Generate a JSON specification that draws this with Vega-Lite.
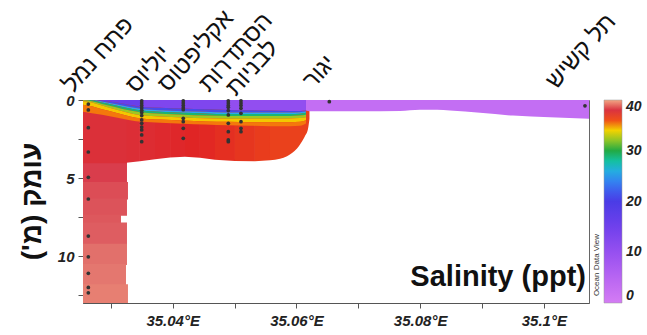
{
"$schema":"https://vega.github.io/schema/vega-lite/v6.json",
"width":506,"height":203,
"autosize":{"type":"none"},
"padding":{"left":83,"top":100,"right":58,"bottom":32},
"background":"white",
"config":{"view":{"stroke":"#666","strokeWidth":1},"font":"Liberation Sans"},
"datasets":{
"body":[
{"lon":35.0255,"lon2":35.03261,"dep":0,"dep2":4.12,"s":37.75},
{"lon":35.0255,"lon2":35.03261,"dep":4.05,"dep2":5.32,"s":38.4},
{"lon":35.0255,"lon2":35.03277,"dep":5.25,"dep2":6.37,"s":38.7},
{"lon":35.0255,"lon2":35.03261,"dep":6.3,"dep2":7.42,"s":38.8},
{"lon":35.0255,"lon2":35.03164,"dep":7.35,"dep2":7.92,"s":38.9},
{"lon":35.0255,"lon2":35.03261,"dep":7.85,"dep2":9.27,"s":39.0},
{"lon":35.0255,"lon2":35.03261,"dep":9.2,"dep2":10.57,"s":39.3},
{"lon":35.0255,"lon2":35.03245,"dep":10.5,"dep2":11.87,"s":39.4},
{"lon":35.0255,"lon2":35.03277,"dep":11.8,"dep2":13,"s":39.5}
],
"bodyarea":[
{"b":"A","s":37.65,"lon":35.0325,"dep":0,"dep2":4.02},
{"b":"A","s":37.65,"lon":35.03471,"dep":0,"dep2":3.92},
{"b":"B","s":37.5,"lon":35.03471,"dep":0,"dep2":3.92},
{"b":"B","s":37.5,"lon":35.03714,"dep":0,"dep2":3.8},
{"b":"C","s":37.35,"lon":35.03714,"dep":0,"dep2":3.8},
{"b":"C","s":37.35,"lon":35.03957,"dep":0,"dep2":3.68},
{"b":"D","s":37.2,"lon":35.03957,"dep":0,"dep2":3.68},
{"b":"D","s":37.2,"lon":35.04199,"dep":0,"dep2":3.64},
{"b":"E","s":37.05,"lon":35.04199,"dep":0,"dep2":3.64},
{"b":"E","s":37.05,"lon":35.04441,"dep":0,"dep2":3.7},
{"b":"F","s":36.9,"lon":35.04441,"dep":0,"dep2":3.7},
{"b":"F","s":36.9,"lon":35.04684,"dep":0,"dep2":3.82},
{"b":"G","s":36.75,"lon":35.04684,"dep":0,"dep2":3.82},
{"b":"G","s":36.75,"lon":35.05007,"dep":0,"dep2":3.9},
{"b":"H","s":36.6,"lon":35.05007,"dep":0,"dep2":3.9},
{"b":"H","s":36.6,"lon":35.0533,"dep":0,"dep2":3.92},
{"b":"I","s":36.45,"lon":35.0533,"dep":0,"dep2":3.92},
{"b":"I","s":36.45,"lon":35.05573,"dep":0,"dep2":3.86},
{"b":"J","s":36.35,"lon":35.05573,"dep":0,"dep2":3.86},
{"b":"J","s":36.35,"lon":35.05735,"dep":0,"dep2":3.76},
{"b":"J","s":36.35,"lon":35.05848,"dep":0,"dep2":3.6},
{"b":"J","s":36.35,"lon":35.05929,"dep":0,"dep2":3.4},
{"b":"J","s":36.35,"lon":35.0601,"dep":0,"dep2":3.1},
{"b":"J","s":36.35,"lon":35.06074,"dep":0,"dep2":2.75},
{"b":"J","s":36.35,"lon":35.06139,"dep":0,"dep2":2.3},
{"b":"J","s":36.35,"lon":35.06187,"dep":0,"dep2":1.85},
{"b":"J","s":36.35,"lon":35.06211,"dep":0,"dep2":1.2}
],
"bands":[
{"b":"p1","s":16,"lon":35.02695,"dep":0,"dep2":0},
{"b":"p1","s":16,"lon":35.02857,"dep":0,"dep2":0.05},
{"b":"p1","s":16,"lon":35.03067,"dep":0,"dep2":0.15},
{"b":"p1","s":16,"lon":35.0331,"dep":0,"dep2":0.32},
{"b":"p1","s":16,"lon":35.03504,"dep":0,"dep2":0.45},
{"b":"p2","s":13,"lon":35.03504,"dep":0,"dep2":0.45},
{"b":"p2","s":13,"lon":35.03795,"dep":0,"dep2":0.5},
{"b":"p2","s":13,"lon":35.04167,"dep":0,"dep2":0.55},
{"b":"p2","s":13,"lon":35.04522,"dep":0,"dep2":0.6},
{"b":"p2","s":13,"lon":35.04894,"dep":0,"dep2":0.64},
{"b":"p3","s":10.5,"lon":35.04894,"dep":0,"dep2":0.64},
{"b":"p3","s":10.5,"lon":35.0525,"dep":0,"dep2":0.66},
{"b":"p3","s":10.5,"lon":35.05573,"dep":0,"dep2":0.68},
{"b":"p3","s":10.5,"lon":35.05896,"dep":0,"dep2":0.7},
{"b":"p3","s":10.5,"lon":35.06058,"dep":0,"dep2":0.7},
{"b":"p3","s":10.5,"lon":35.06155,"dep":0,"dep2":0.68},
{"b":"b2","s":21,"lon":35.0255,"dep":0,"dep2":0},
{"b":"b2","s":21,"lon":35.02695,"dep":0,"dep2":0},
{"b":"b2","s":21,"lon":35.02857,"dep":0.05,"dep2":0.1},
{"b":"b2","s":21,"lon":35.03067,"dep":0.15,"dep2":0.25},
{"b":"b2","s":21,"lon":35.0331,"dep":0.32,"dep2":0.45},
{"b":"b2","s":21,"lon":35.03504,"dep":0.45,"dep2":0.58},
{"b":"b2","s":21,"lon":35.03795,"dep":0.5,"dep2":0.65},
{"b":"b2","s":21,"lon":35.04167,"dep":0.55,"dep2":0.72},
{"b":"b2","s":21,"lon":35.04522,"dep":0.6,"dep2":0.76},
{"b":"b2","s":21,"lon":35.04894,"dep":0.64,"dep2":0.8},
{"b":"b2","s":21,"lon":35.0525,"dep":0.66,"dep2":0.8},
{"b":"b2","s":21,"lon":35.05573,"dep":0.68,"dep2":0.8},
{"b":"b2","s":21,"lon":35.05896,"dep":0.7,"dep2":0.8},
{"b":"b2","s":21,"lon":35.06058,"dep":0.7,"dep2":0.78},
{"b":"b2","s":21,"lon":35.06155,"dep":0.68,"dep2":0.74},
{"b":"b3","s":25.5,"lon":35.0255,"dep":0,"dep2":0},
{"b":"b3","s":25.5,"lon":35.02695,"dep":0,"dep2":0.02},
{"b":"b3","s":25.5,"lon":35.02857,"dep":0.1,"dep2":0.16},
{"b":"b3","s":25.5,"lon":35.03067,"dep":0.25,"dep2":0.33},
{"b":"b3","s":25.5,"lon":35.0331,"dep":0.45,"dep2":0.55},
{"b":"b3","s":25.5,"lon":35.03504,"dep":0.58,"dep2":0.68},
{"b":"b3","s":25.5,"lon":35.03795,"dep":0.65,"dep2":0.75},
{"b":"b3","s":25.5,"lon":35.04167,"dep":0.72,"dep2":0.82},
{"b":"b3","s":25.5,"lon":35.04522,"dep":0.76,"dep2":0.86},
{"b":"b3","s":25.5,"lon":35.04894,"dep":0.8,"dep2":0.9},
{"b":"b3","s":25.5,"lon":35.0525,"dep":0.8,"dep2":0.9},
{"b":"b3","s":25.5,"lon":35.05573,"dep":0.8,"dep2":0.9},
{"b":"b3","s":25.5,"lon":35.05896,"dep":0.8,"dep2":0.9},
{"b":"b3","s":25.5,"lon":35.06058,"dep":0.78,"dep2":0.88},
{"b":"b3","s":25.5,"lon":35.06155,"dep":0.74,"dep2":0.82},
{"b":"b4","s":29,"lon":35.0255,"dep":0,"dep2":0.02},
{"b":"b4","s":29,"lon":35.02695,"dep":0.02,"dep2":0.08},
{"b":"b4","s":29,"lon":35.02857,"dep":0.16,"dep2":0.25},
{"b":"b4","s":29,"lon":35.03067,"dep":0.33,"dep2":0.45},
{"b":"b4","s":29,"lon":35.0331,"dep":0.55,"dep2":0.68},
{"b":"b4","s":29,"lon":35.03504,"dep":0.68,"dep2":0.8},
{"b":"b4","s":29,"lon":35.03795,"dep":0.75,"dep2":0.88},
{"b":"b4","s":29,"lon":35.04167,"dep":0.82,"dep2":0.95},
{"b":"b4","s":29,"lon":35.04522,"dep":0.86,"dep2":1.0},
{"b":"b4","s":29,"lon":35.04894,"dep":0.9,"dep2":1.03},
{"b":"b4","s":29,"lon":35.0525,"dep":0.9,"dep2":1.03},
{"b":"b4","s":29,"lon":35.05573,"dep":0.9,"dep2":1.03},
{"b":"b4","s":29,"lon":35.05896,"dep":0.9,"dep2":1.02},
{"b":"b4","s":29,"lon":35.06058,"dep":0.88,"dep2":1.0},
{"b":"b4","s":29,"lon":35.06155,"dep":0.82,"dep2":0.95},
{"b":"b5","s":32.3,"lon":35.0255,"dep":0.02,"dep2":0.08},
{"b":"b5","s":32.3,"lon":35.02695,"dep":0.08,"dep2":0.16},
{"b":"b5","s":32.3,"lon":35.02857,"dep":0.25,"dep2":0.36},
{"b":"b5","s":32.3,"lon":35.03067,"dep":0.45,"dep2":0.6},
{"b":"b5","s":32.3,"lon":35.0331,"dep":0.68,"dep2":0.85},
{"b":"b5","s":32.3,"lon":35.03504,"dep":0.8,"dep2":0.98},
{"b":"b5","s":32.3,"lon":35.03795,"dep":0.88,"dep2":1.05},
{"b":"b5","s":32.3,"lon":35.04167,"dep":0.95,"dep2":1.12},
{"b":"b5","s":32.3,"lon":35.04522,"dep":1.0,"dep2":1.17},
{"b":"b5","s":32.3,"lon":35.04894,"dep":1.03,"dep2":1.2},
{"b":"b5","s":32.3,"lon":35.0525,"dep":1.03,"dep2":1.2},
{"b":"b5","s":32.3,"lon":35.05573,"dep":1.03,"dep2":1.2},
{"b":"b5","s":32.3,"lon":35.05896,"dep":1.02,"dep2":1.18},
{"b":"b5","s":32.3,"lon":35.06058,"dep":1.0,"dep2":1.15},
{"b":"b5","s":32.3,"lon":35.06155,"dep":0.95,"dep2":1.1},
{"b":"b6","s":34.2,"lon":35.0255,"dep":0.08,"dep2":0.3},
{"b":"b6","s":34.2,"lon":35.02695,"dep":0.16,"dep2":0.4},
{"b":"b6","s":34.2,"lon":35.02857,"dep":0.36,"dep2":0.6},
{"b":"b6","s":34.2,"lon":35.03067,"dep":0.6,"dep2":0.8},
{"b":"b6","s":34.2,"lon":35.0331,"dep":0.85,"dep2":1.05},
{"b":"b6","s":34.2,"lon":35.03504,"dep":0.98,"dep2":1.18},
{"b":"b6","s":34.2,"lon":35.03795,"dep":1.05,"dep2":1.25},
{"b":"b6","s":34.2,"lon":35.04167,"dep":1.12,"dep2":1.32},
{"b":"b6","s":34.2,"lon":35.04522,"dep":1.17,"dep2":1.37},
{"b":"b6","s":34.2,"lon":35.04894,"dep":1.2,"dep2":1.4},
{"b":"b6","s":34.2,"lon":35.0525,"dep":1.2,"dep2":1.42},
{"b":"b6","s":34.2,"lon":35.05573,"dep":1.2,"dep2":1.43},
{"b":"b6","s":34.2,"lon":35.05896,"dep":1.18,"dep2":1.42},
{"b":"b6","s":34.2,"lon":35.06058,"dep":1.15,"dep2":1.4},
{"b":"b6","s":34.2,"lon":35.06155,"dep":1.1,"dep2":1.3},
{"b":"b7","s":35.5,"lon":35.0255,"dep":0.3,"dep2":0.75},
{"b":"b7","s":35.5,"lon":35.02695,"dep":0.4,"dep2":0.85},
{"b":"b7","s":35.5,"lon":35.02857,"dep":0.6,"dep2":0.95},
{"b":"b7","s":35.5,"lon":35.03067,"dep":0.8,"dep2":1.1},
{"b":"b7","s":35.5,"lon":35.0331,"dep":1.05,"dep2":1.3},
{"b":"b7","s":35.5,"lon":35.03504,"dep":1.18,"dep2":1.4},
{"b":"b7","s":35.5,"lon":35.03795,"dep":1.25,"dep2":1.45},
{"b":"b7","s":35.5,"lon":35.04167,"dep":1.32,"dep2":1.52},
{"b":"b7","s":35.5,"lon":35.04522,"dep":1.37,"dep2":1.57},
{"b":"b7","s":35.5,"lon":35.04894,"dep":1.4,"dep2":1.62},
{"b":"b7","s":35.5,"lon":35.0525,"dep":1.42,"dep2":1.65},
{"b":"b7","s":35.5,"lon":35.05573,"dep":1.43,"dep2":1.68},
{"b":"b7","s":35.5,"lon":35.05896,"dep":1.42,"dep2":1.68},
{"b":"b7","s":35.5,"lon":35.06058,"dep":1.4,"dep2":1.65},
{"b":"b7","s":35.5,"lon":35.06155,"dep":1.3,"dep2":1.5},
{"b":"r","s":3,"lon":35.06155,"dep":0,"dep2":0.68},
{"b":"r","s":3,"lon":35.06219,"dep":0,"dep2":0.72},
{"b":"r","s":3,"lon":35.07028,"dep":0,"dep2":0.72},
{"b":"r","s":3,"lon":35.07675,"dep":0,"dep2":0.7},
{"b":"r","s":3,"lon":35.07998,"dep":0,"dep2":0.62},
{"b":"r","s":3,"lon":35.08273,"dep":0,"dep2":0.62},
{"b":"r","s":3,"lon":35.08483,"dep":0,"dep2":0.68},
{"b":"r","s":3,"lon":35.08968,"dep":0,"dep2":0.82},
{"b":"r","s":3,"lon":35.09501,"dep":0,"dep2":1.0},
{"b":"r","s":3,"lon":35.10099,"dep":0,"dep2":1.1},
{"b":"r","s":3,"lon":35.1073,"dep":0,"dep2":1.2}
],
"dots":[
{"lon":35.02636,"dep":0.26},{"lon":35.02636,"dep":0.64},{"lon":35.02636,"dep":1.77},{"lon":35.02636,"dep":3.33},{"lon":35.02636,"dep":4.95},{"lon":35.02636,"dep":6.34},{"lon":35.02636,"dep":8.71},{"lon":35.02636,"dep":10.04},{"lon":35.02636,"dep":11.1},{"lon":35.02636,"dep":12.0},{"lon":35.02636,"dep":12.35},
{"lon":35.03499,"dep":0.05},{"lon":35.03499,"dep":0.2},{"lon":35.03499,"dep":0.35},{"lon":35.03499,"dep":0.5},{"lon":35.03499,"dep":0.65},{"lon":35.03499,"dep":0.8},{"lon":35.03499,"dep":1.0},{"lon":35.03499,"dep":1.28},{"lon":35.03499,"dep":1.49},{"lon":35.03499,"dep":1.73},{"lon":35.03499,"dep":1.92},{"lon":35.03499,"dep":2.24},{"lon":35.03499,"dep":2.67},
{"lon":35.04171,"dep":0.05},{"lon":35.04171,"dep":0.2},{"lon":35.04171,"dep":0.35},{"lon":35.04171,"dep":0.5},{"lon":35.04171,"dep":0.62},{"lon":35.04171,"dep":1.17},{"lon":35.04171,"dep":1.39},{"lon":35.04171,"dep":1.81},{"lon":35.04171,"dep":2.45},
{"lon":35.04899,"dep":0.05},{"lon":35.04899,"dep":0.2},{"lon":35.04899,"dep":0.35},{"lon":35.04899,"dep":0.47},{"lon":35.04899,"dep":0.68},{"lon":35.04899,"dep":0.96},{"lon":35.04899,"dep":1.49},{"lon":35.04899,"dep":2.03},{"lon":35.04899,"dep":2.56},{"lon":35.04899,"dep":2.67},
{"lon":35.05104,"dep":0.05},{"lon":35.05104,"dep":0.2},{"lon":35.05104,"dep":0.35},{"lon":35.05104,"dep":0.53},{"lon":35.05104,"dep":0.85},{"lon":35.05104,"dep":1.39},{"lon":35.05104,"dep":1.81},{"lon":35.05104,"dep":2.03},
{"lon":35.06532,"dep":0.11},
{"lon":35.10665,"dep":0.37}
],
"labels":[
{"name":"פתח נמל","lon":35.02388,"dep":-0.38},
{"name":"יוליוס","lon":35.03407,"dep":-0.38},
{"name":"אקליפטוס","lon":35.03924,"dep":-0.45},
{"name":"הסתדרות","lon":35.04587,"dep":-0.45},
{"name":"לבניות","lon":35.05023,"dep":-0.19},
{"name":"יגור","lon":35.0627,"dep":-0.65},
{"name":"תל קשיש","lon":35.10196,"dep":-0.64}
]
},
"layer":[
{"data":{"name":"body"},
 "mark":{"type":"rect"},
 "encoding":{
  "x":{"field":"lon","type":"quantitative","scale":{"domain":[35.0255,35.1073],"nice":false,"zero":false},
   "axis":{"values":[35.03,35.04,35.05,35.06,35.07,35.08,35.09,35.1],"labelExpr":"round(datum.value*100) % 2 == 0 ? format(datum.value, '.2~f') + '°E' : ''","title":null,"grid":false,"tickSize":5,"tickColor":"#555","domainColor":"#555","labelFont":"Liberation Sans","labelFontSize":15,"labelFontWeight":"bold","labelFontStyle":"italic","labelColor":"#222","labelPadding":5,"labelFlush":false,"labelOverlap":false}},
  "x2":{"field":"lon2"},
  "y":{"field":"dep","type":"quantitative","scale":{"domain":[0,13],"reverse":true,"nice":false,"zero":false},
   "axis":{"values":[0,2.5,5,7.5,10,12.5],"labelExpr":"datum.value % 5 == 0 ? datum.label : ''","title":"‏עומק (מ')‏","titleFont":"Liberation Sans","titleFontSize":28,"titleFontWeight":"bold","titleColor":"#111","titleAngle":270,"titleAlign":"center","titleBaseline":"alphabetic","titleX":-43,"titleY":101,"grid":false,"tickSize":5,"tickColor":"#555","domainColor":"#555","labelFont":"Liberation Sans","labelFontSize":15,"labelFontWeight":"bold","labelFontStyle":"italic","labelColor":"#222","labelPadding":4,"labelOverlap":false}},
  "y2":{"field":"dep2"},
  "color":{"field":"s","type":"quantitative",
   "scale":{"type":"linear","domain":[0,5,10,15,20,23,25.5,28,30,32.5,34,35,36,37,38.3,39.2,40],"range":["#d47cf4","#b865f2","#9650f0","#7040ec","#4a3ce6","#3a6cf0","#28a8f0","#14c0a0","#22aa44","#a8cc20","#f2d200","#f8a000","#f05018","#e02424","#d83848","#e06868","#f2a684"],"interpolate":"rgb"},
   "legend":{"type":"gradient","orient":"none","legendX":521,"legendY":0,"direction":"vertical","gradientLength":203,"gradientThickness":18,"title":null,"values":[0,10,20,30,40],"labelFont":"Liberation Sans","labelFontSize":14,"labelFontWeight":"bold","labelFontStyle":"italic","labelColor":"#222","labelOffset":4,"padding":0,"gradientStrokeColor":"#999","gradientStrokeWidth":0.5,"labelBaseline":"middle"}}
 }},
{"data":{"name":"bodyarea"},
 "mark":{"type":"area","interpolate":"monotone"},
 "encoding":{
  "x":{"field":"lon","type":"quantitative","scale":{"domain":[35.0255,35.1073],"nice":false,"zero":false}},
  "y":{"field":"dep","type":"quantitative","stack":null,"scale":{"domain":[0,13],"reverse":true,"nice":false,"zero":false}},
  "y2":{"field":"dep2"},
  "detail":{"field":"b","type":"nominal"},
  "color":{"field":"s","type":"quantitative",
   "scale":{"type":"linear","domain":[0,5,10,15,20,23,25.5,28,30,32.5,34,35,36,37,38.3,39.2,40],"range":["#d47cf4","#b865f2","#9650f0","#7040ec","#4a3ce6","#3a6cf0","#28a8f0","#14c0a0","#22aa44","#a8cc20","#f2d200","#f8a000","#f05018","#e02424","#d83848","#e06868","#f2a684"],"interpolate":"rgb"},
   "legend":{"type":"gradient","orient":"none","legendX":521,"legendY":0,"direction":"vertical","gradientLength":203,"gradientThickness":18,"title":null,"values":[0,10,20,30,40],"labelFont":"Liberation Sans","labelFontSize":14,"labelFontWeight":"bold","labelFontStyle":"italic","labelColor":"#222","labelOffset":4,"padding":0,"gradientStrokeColor":"#999","gradientStrokeWidth":0.5,"labelBaseline":"middle"}}
 }},
{"data":{"name":"bands"},
 "mark":{"type":"area","interpolate":"monotone"},
 "encoding":{
  "x":{"field":"lon","type":"quantitative","scale":{"domain":[35.0255,35.1073],"nice":false,"zero":false}},
  "y":{"field":"dep","type":"quantitative","stack":null,"scale":{"domain":[0,13],"reverse":true,"nice":false,"zero":false}},
  "y2":{"field":"dep2"},
  "detail":{"field":"b","type":"nominal"},
  "color":{"field":"s","type":"quantitative",
   "scale":{"type":"linear","domain":[0,5,10,15,20,23,25.5,28,30,32.5,34,35,36,37,38.3,39.2,40],"range":["#d47cf4","#b865f2","#9650f0","#7040ec","#4a3ce6","#3a6cf0","#28a8f0","#14c0a0","#22aa44","#a8cc20","#f2d200","#f8a000","#f05018","#e02424","#d83848","#e06868","#f2a684"],"interpolate":"rgb"},
   "legend":{"type":"gradient","orient":"none","legendX":521,"legendY":0,"direction":"vertical","gradientLength":203,"gradientThickness":18,"title":null,"values":[0,10,20,30,40],"labelFont":"Liberation Sans","labelFontSize":14,"labelFontWeight":"bold","labelFontStyle":"italic","labelColor":"#222","labelOffset":4,"padding":0,"gradientStrokeColor":"#999","gradientStrokeWidth":0.5,"labelBaseline":"middle"}}
 }},
{"data":{"name":"dots"},
 "mark":{"type":"circle","size":14,"color":"#333","opacity":1},
 "encoding":{
  "x":{"field":"lon","type":"quantitative","scale":{"domain":[35.0255,35.1073],"nice":false,"zero":false}},
  "y":{"field":"dep","type":"quantitative","scale":{"domain":[0,13],"reverse":true,"nice":false,"zero":false}}
 }},
{"data":{"name":"labels"},
 "mark":{"type":"text","angle":312,"align":"left","baseline":"alphabetic","font":"Liberation Sans","fontSize":24,"color":"#111"},
 "encoding":{
  "x":{"field":"lon","type":"quantitative","scale":{"domain":[35.0255,35.1073],"nice":false,"zero":false}},
  "y":{"field":"dep","type":"quantitative","scale":{"domain":[0,13],"reverse":true,"nice":false,"zero":false}},
  "text":{"field":"name"}
 }},
{"data":{"values":[{"txt":"Salinity (ppt)","lon":35.10681,"dep":11.91}]},
 "mark":{"type":"text","align":"right","baseline":"alphabetic","font":"Liberation Sans","fontSize":29,"fontWeight":"bold","color":"#111"},
 "encoding":{
  "x":{"field":"lon","type":"quantitative","scale":{"domain":[35.0255,35.1073],"nice":false,"zero":false}},
  "y":{"field":"dep","type":"quantitative","scale":{"domain":[0,13],"reverse":true,"nice":false,"zero":false}},
  "text":{"field":"txt"}
 }},
{"data":{"values":[{"txt":"Ocean Data View","lon":35.10859,"dep":10.57}]},
 "mark":{"type":"text","align":"center","baseline":"middle","angle":270,"font":"Liberation Sans","fontSize":8,"color":"#333"},
 "encoding":{
  "x":{"field":"lon","type":"quantitative","scale":{"domain":[35.0255,35.1073],"nice":false,"zero":false}},
  "y":{"field":"dep","type":"quantitative","scale":{"domain":[0,13],"reverse":true,"nice":false,"zero":false}},
  "text":{"field":"txt"}
 }}
]
}
